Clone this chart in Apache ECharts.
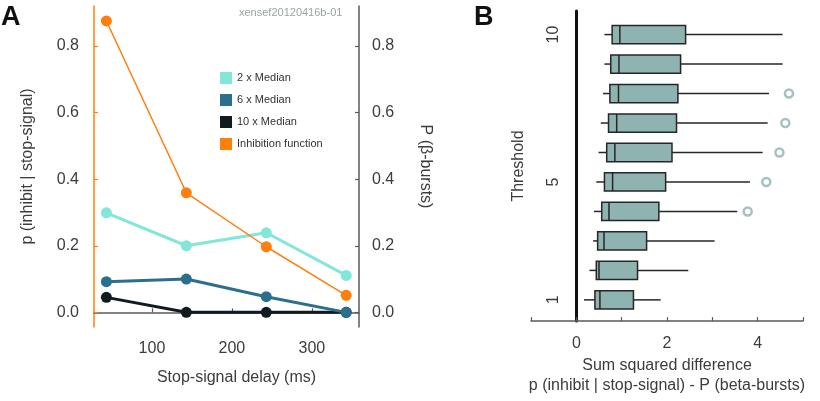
<!DOCTYPE html>
<html>
<head>
<meta charset="utf-8">
<script src="https://cdn.jsdelivr.net/npm/echarts@6/dist/echarts.min.js"></script>
<style>
  html, body { margin: 0; padding: 0; background: #fff; }
  #chart { width: 820px; height: 401px; }
</style>
</head>
<body>
<div id="chart"></div>
<script>
// panel A: stop-signal delay vs probabilities
const delays = [43, 143, 243, 343]
const median2 = [0.299, 0.2, 0.239, 0.111]
const median6 = [0.092, 0.1, 0.047, 0.0]
const median10 = [0.045, 0.0, 0.0, 0.0]
const inhibition = [0.875, 0.359, 0.197, 0.051]
const delayTicks = [100, 200, 300]
const probTicks = [0, 0.2, 0.4, 0.6, 0.8]

// panel B: sum squared difference per threshold
const thresholds = [1, 2, 3, 4, 5, 6, 7, 8, 9, 10]
const whiskerLow = [0.17, 0.29, 0.37, 0.39, 0.44, 0.49, 0.54, 0.59, 0.62, 0.62]
const q1 = [0.41, 0.44, 0.47, 0.56, 0.62, 0.67, 0.71, 0.74, 0.76, 0.79]
const median = [0.52, 0.50, 0.61, 0.72, 0.80, 0.85, 0.89, 0.93, 0.94, 0.96]
const q3 = [1.26, 1.35, 1.55, 1.82, 1.97, 2.11, 2.21, 2.24, 2.30, 2.41]
const whiskerHigh = [1.86, 2.47, 3.05, 3.55, 3.83, 4.11, 4.22, 4.25, 4.55, 4.55]
const outlierThreshold = [4, 5, 6, 7, 8]
const outlierValue = [3.78, 4.19, 4.48, 4.61, 4.69]
const thresholdTicks = [1, 5, 10]

const FONT = 'Liberation Sans, Arial, sans-serif'
const TXT = '#3c3c3c'
const AXIS = '#5a5a5a'
const ORANGE = '#ff7f0e'
const BOX = '#8fb3b1'

const pairs = (xs, ys) => xs.map((x, i) => [x, ys[i]])

const chart = echarts.init(document.getElementById('chart'))

const lineSeries = (name, values, color, width, z) => ({
  name: name,
  type: 'line',
  xAxisIndex: 0,
  yAxisIndex: 0,
  data: pairs(delays, values),
  symbol: 'circle',
  symbolSize: 11,
  z: z,
  lineStyle: { color: color, width: width },
  itemStyle: { color: color },
})

const renderBox = (params, api) => {
  const y = api.value(0)
  const lo = api.coord([api.value(1), y])
  const a = api.coord([api.value(2), y])
  const md = api.coord([api.value(3), y])
  const b = api.coord([api.value(4), y])
  const hi = api.coord([api.value(5), y])
  const h = api.size([0, 0.31])[1]
  const stroke = { stroke: '#262626', lineWidth: 1.5 }
  return {
    type: 'group',
    children: [
      { type: 'line', shape: { x1: lo[0], y1: lo[1], x2: a[0], y2: a[1] }, style: stroke },
      { type: 'line', shape: { x1: b[0], y1: b[1], x2: hi[0], y2: hi[1] }, style: stroke },
      { type: 'rect', shape: { x: a[0], y: a[1] - h, width: b[0] - a[0], height: 2 * h },
        style: { fill: BOX, stroke: '#262626', lineWidth: 1.5 } },
      { type: 'line', shape: { x1: md[0], y1: md[1] - h, x2: md[0], y2: md[1] + h }, style: stroke },
    ],
  }
}

const option = {
  animation: false,
  textStyle: { fontFamily: FONT },
  graphic: [
    { type: 'text', left: 1, top: 4, style: { text: 'A', font: 'bold 27px ' + FONT, fill: '#111' } },
    { type: 'text', left: 474, top: 4, style: { text: 'B', font: 'bold 27px ' + FONT, fill: '#111' } },
    { type: 'text', left: 239, top: 7, style: { text: 'xensef20120416b-01', font: '11px ' + FONT, fill: '#9aa4a6' } },
  ],
  legend: {
    orient: 'vertical',
    left: 215,
    top: 67,
    icon: 'rect',
    itemWidth: 12,
    itemHeight: 12,
    itemGap: 10,
    textStyle: { fontSize: 11, color: '#333', fontFamily: FONT },
    data: ['2 x Median', '6 x Median', '10 x Median', 'Inhibition function'],
  },
  grid: [
    { left: 94, right: 461, top: 6, bottom: 74 },
    { left: 531, right: 17, top: 11, bottom: 75 },
  ],
  xAxis: [
    {
      gridIndex: 0,
      type: 'value',
      min: 27.5,
      max: 359,
      name: 'Stop-signal delay (ms)',
      nameLocation: 'middle',
      nameGap: 43,
      nameTextStyle: { fontSize: 16, color: TXT, padding: [0, 0, 0, 20] },
      axisLine: { lineStyle: { color: AXIS, width: 1.5 } },
      axisTick: { inside: true, length: 4, customValues: delayTicks, lineStyle: { color: AXIS, width: 1.2 } },
      axisLabel: { customValues: delayTicks, fontSize: 16, color: TXT, margin: 14 },
      splitLine: { show: false },
    },
    {
      gridIndex: 1,
      type: 'value',
      min: -1,
      max: 5,
      interval: 1,
      name: 'Sum squared difference\np (inhibit | stop-signal) - P (beta-bursts)',
      nameLocation: 'middle',
      nameGap: 33,
      nameTextStyle: { fontSize: 16, color: TXT, lineHeight: 20 },
      axisLine: { onZero: false, lineStyle: { color: AXIS, width: 1.5 } },
      axisTick: { inside: true, length: 4, lineStyle: { color: AXIS, width: 1.2 } },
      axisLabel: {
        fontSize: 16,
        color: TXT,
        margin: 14,
        formatter: (v) => (v >= 0 && v % 2 === 0 ? String(v) : ''),
      },
      splitLine: { show: false },
    },
  ],
  yAxis: [
    {
      gridIndex: 0,
      type: 'value',
      min: -0.044,
      max: 0.92,
      name: 'p (inhibit | stop-signal)',
      nameLocation: 'middle',
      nameRotate: 90,
      nameGap: 58,
      nameTextStyle: { fontSize: 16, color: TXT },
      axisLine: { show: true, onZero: false, lineStyle: { color: ORANGE, width: 1.5 } },
      axisTick: { show: true, inside: true, length: 4, customValues: probTicks, lineStyle: { color: ORANGE, width: 1.2 } },
      axisLabel: { customValues: probTicks, fontSize: 16, color: TXT, margin: 15, formatter: (v) => v.toFixed(1) },
      splitLine: { show: false },
    },
    {
      gridIndex: 0,
      type: 'value',
      position: 'right',
      min: -0.044,
      max: 0.92,
      name: 'P (β-bursts)',
      nameLocation: 'middle',
      nameRotate: -90,
      nameGap: 58,
      nameTextStyle: { fontSize: 16, color: TXT },
      axisLine: { show: true, onZero: false, lineStyle: { color: AXIS, width: 1.5 } },
      axisTick: { show: true, inside: true, length: 4, customValues: probTicks, lineStyle: { color: AXIS, width: 1.2 } },
      axisLabel: { customValues: probTicks, fontSize: 16, color: TXT, margin: 13, formatter: (v) => v.toFixed(1) },
      splitLine: { show: false },
    },
    {
      gridIndex: 1,
      type: 'value',
      min: 0.28,
      max: 10.8,
      offset: -45.5,
      name: 'Threshold',
      nameLocation: 'middle',
      nameRotate: 90,
      nameGap: 50,
      nameTextStyle: { fontSize: 16, color: TXT },
      axisLine: { show: true, onZero: false, lineStyle: { color: '#111', width: 3 } },
      axisTick: { show: false },
      axisLabel: { customValues: thresholdTicks, rotate: 90, fontSize: 16, color: TXT, margin: 15 },
      splitLine: { show: false },
    },
  ],
  series: [
    lineSeries('10 x Median', median10, '#111b1f', 3, 2),
    lineSeries('6 x Median', median6, '#2b6f8e', 3, 3),
    lineSeries('2 x Median', median2, '#82e6d8', 3, 4),
    lineSeries('Inhibition function', inhibition, ORANGE, 1.5, 5),
    {
      name: 'boxes',
      type: 'custom',
      xAxisIndex: 1,
      yAxisIndex: 2,
      renderItem: renderBox,
      encode: { x: [1, 2, 3, 4, 5], y: 0 },
      data: thresholds.map((t, i) => [t, whiskerLow[i], q1[i], median[i], q3[i], whiskerHigh[i]]),
      z: 3,
    },
    {
      name: 'outliers',
      type: 'scatter',
      xAxisIndex: 1,
      yAxisIndex: 2,
      data: outlierThreshold.map((t, i) => [outlierValue[i], t]),
      symbol: 'circle',
      symbolSize: 8,
      itemStyle: { color: '#fff', borderColor: BOX, borderWidth: 2.5 },
    },
  ],
}

chart.setOption(option)
</script>
</body>
</html>
